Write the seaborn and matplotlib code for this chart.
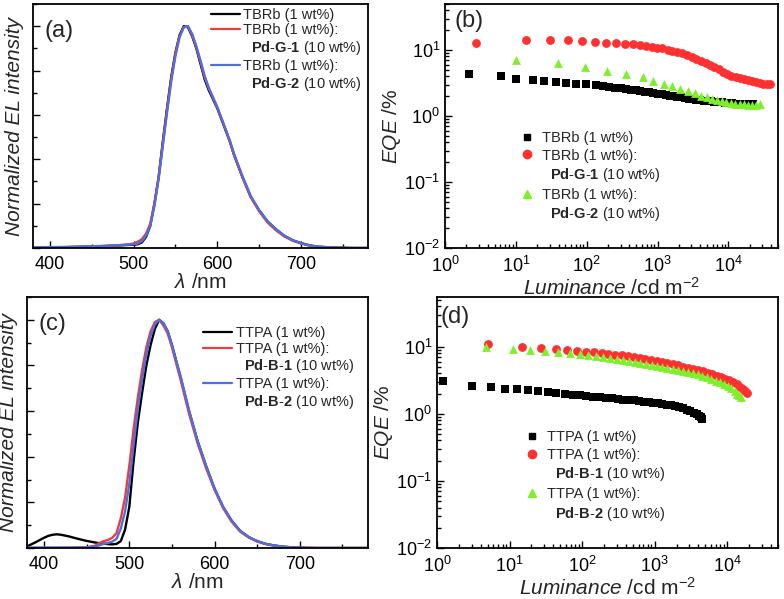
import matplotlib
matplotlib.use("Agg")
import matplotlib.pyplot as plt
import seaborn as sns
from matplotlib.lines import Line2D
from matplotlib.ticker import MultipleLocator

# ---- panel (a): TBRb EL spectra ----
wl_a = [380, 400, 420, 440, 460, 480, 490, 500, 505, 510, 515, 520, 525, 530, 535,
        540, 545, 550, 555, 560, 565, 570, 575, 580, 585, 590, 595, 600, 605, 610,
        615, 620, 630, 640, 650, 660, 670, 680, 690, 700, 710, 720, 740, 760, 780]
el_tbrb = [0.0, 0.002, 0.004, 0.006, 0.008, 0.011, 0.013, 0.015, 0.017, 0.025,
           0.05, 0.1, 0.2, 0.32, 0.48, 0.63, 0.77, 0.88, 0.96, 1.0,
           0.995, 0.955, 0.9, 0.83, 0.76, 0.71, 0.67, 0.63, 0.58, 0.53,
           0.48, 0.42, 0.32, 0.23, 0.17, 0.12, 0.085, 0.055, 0.035, 0.022,
           0.012, 0.006, 0.002, 0.0, 0.0]
el_tbrb_g1 = [0.0, 0.001, 0.002, 0.004, 0.007, 0.012, 0.015, 0.02, 0.028, 0.04,
              0.065, 0.11, 0.2, 0.32, 0.47, 0.62, 0.76, 0.875, 0.955, 0.995,
              1.0, 0.96, 0.905, 0.84, 0.77, 0.72, 0.68, 0.635, 0.585, 0.535,
              0.48, 0.42, 0.32, 0.23, 0.165, 0.115, 0.08, 0.052, 0.033, 0.02,
              0.011, 0.005, 0.001, 0.0, 0.0]
el_tbrb_g2 = [0.003, 0.004, 0.005, 0.007, 0.009, 0.012, 0.014, 0.017, 0.02, 0.03,
              0.055, 0.1, 0.19, 0.31, 0.46, 0.61, 0.75, 0.865, 0.95, 0.995,
              1.0, 0.965, 0.91, 0.845, 0.775, 0.72, 0.675, 0.635, 0.585, 0.535,
              0.485, 0.425, 0.325, 0.235, 0.17, 0.12, 0.085, 0.055, 0.035, 0.022,
              0.012, 0.006, 0.002, 0.0, 0.0]

# ---- panel (b): TBRb EQE ----
lum_b_tbrb = [2.2, 6.1, 10.1, 17.4, 25, 37, 51, 70, 97, 134,
              167, 207, 250, 300, 355, 420, 490, 570, 660, 760,
              870, 1000, 1140, 1300, 1480, 1680, 1900, 2150, 2430, 2750,
              3100, 3500, 3950, 4450, 5000, 5600, 6300, 7100, 8000, 9000,
              10100, 11300, 12700, 14200, 15900, 17800, 20000, 22000]
eqe_b_tbrb = [4.4, 4.0, 3.7, 3.55, 3.35, 3.27, 3.16, 3.09, 3.02, 2.91,
              2.85, 2.75, 2.7, 2.65, 2.58, 2.52, 2.46, 2.4, 2.34, 2.28,
              2.23, 2.18, 2.13, 2.08, 2.04, 2.0, 1.96, 1.92, 1.88, 1.84,
              1.81, 1.78, 1.75, 1.72, 1.69, 1.67, 1.65, 1.63, 1.61, 1.59,
              1.58, 1.56, 1.55, 1.54, 1.53, 1.52, 1.51, 1.5]
lum_b_g1 = [2.7, 14, 30, 54, 86, 131, 186, 257, 347, 450,
            560, 690, 830, 990, 1170, 1380, 1620, 1900, 2220, 2600,
            3030, 3530, 4100, 4750, 5500, 6350, 7300, 8400, 9600, 11000,
            12600, 14400, 16400, 18700, 21300, 24200, 27500, 31200, 35300, 39000]
eqe_b_g1 = [13.0, 14.1, 14.1, 14.1, 13.7, 13.2, 12.9, 12.6, 12.3, 12.2,
            11.9, 11.6, 11.3, 10.9, 10.6, 10.2, 9.8, 9.4, 8.9, 8.4,
            7.9, 7.4, 6.9, 6.4, 5.9, 5.5, 5.1, 4.7, 4.35, 4.05,
            3.9, 3.75, 3.6, 3.47, 3.35, 3.25, 3.17, 3.1, 3.06, 3.05]
lum_b_g2 = [9.9, 39, 95, 196, 363, 620, 860, 1230, 1600, 2100, 2700, 3400, 4100,
            4900, 5800, 6800, 8000, 9300, 10800, 12500, 14400, 16500, 19000,
            21700, 24700, 28000]
eqe_b_g2 = [7.1, 6.3, 5.5, 4.8, 4.27, 3.98, 3.35, 3.1, 2.82, 2.6, 2.42, 2.22, 2.05,
            1.92, 1.82, 1.74, 1.67, 1.62, 1.57, 1.54, 1.51, 1.5, 1.49,
            1.49, 1.49, 1.5]

# ---- panel (c): TTPA EL spectra ----
wl_c = [380, 390, 400, 405, 410, 415, 420, 430, 440, 450,
        460, 465, 470, 475, 480, 485, 490, 495, 500, 505,
        510, 515, 520, 525, 530, 535, 540, 545, 550, 555,
        560, 570, 580, 590, 600, 610, 620, 630, 640, 650,
        660, 670, 680, 690, 700, 720, 750, 780]
el_ttpa = [0.007, 0.025, 0.045, 0.053, 0.058, 0.06, 0.058, 0.05, 0.04, 0.031,
           0.024, 0.021, 0.019, 0.017, 0.016, 0.018, 0.03, 0.08, 0.18, 0.38,
           0.55, 0.68, 0.8, 0.89, 0.96, 1.0, 0.985, 0.95, 0.89, 0.82,
           0.75, 0.6, 0.47, 0.36, 0.26, 0.18, 0.12, 0.075, 0.048, 0.03,
           0.018, 0.011, 0.006, 0.003, 0.001, 0.0, 0.0, 0.0]
el_ttpa_b1 = [0.0, 0.0, 0.0, 0.0, 0.0, 0.0, 0.001, 0.001, 0.002, 0.003,
              0.01, 0.022, 0.03, 0.035, 0.045, 0.065, 0.13, 0.22, 0.36, 0.52,
              0.66, 0.78, 0.88, 0.95, 0.99, 1.0, 0.975, 0.94, 0.88, 0.81,
              0.74, 0.59, 0.46, 0.35, 0.255, 0.175, 0.115, 0.072, 0.046, 0.028,
              0.017, 0.01, 0.005, 0.003, 0.001, 0.0, 0.0, 0.0]
el_ttpa_b2 = [0.002, 0.002, 0.002, 0.002, 0.002, 0.002, 0.002, 0.002, 0.002, 0.003,
              0.006, 0.012, 0.018, 0.022, 0.028, 0.04, 0.085, 0.16, 0.28, 0.45,
              0.61, 0.74, 0.85, 0.93, 0.98, 1.0, 0.985, 0.95, 0.89, 0.82,
              0.755, 0.605, 0.47, 0.36, 0.26, 0.18, 0.12, 0.075, 0.048, 0.03,
              0.018, 0.011, 0.006, 0.003, 0.001, 0.0, 0.0, 0.0]

# ---- panel (d): TTPA EQE ----
lum_d_ttpa = [1.21, 3.0, 5.5, 8.6, 12.8, 18, 24.8, 34, 44, 58,
              75, 92, 114, 140, 174, 215, 260, 310, 370, 440,
              520, 610, 710, 830, 960, 1110, 1280, 1470, 1680, 1920,
              2180, 2460, 2770, 3100, 3450, 3800, 4100, 4350, 4500]
eqe_d_ttpa = [3.05, 2.6, 2.51, 2.37, 2.32, 2.24, 2.16, 2.11, 2.04, 2.0,
              1.93, 1.88, 1.84, 1.8, 1.76, 1.72, 1.69, 1.66, 1.63, 1.6,
              1.58, 1.55, 1.52, 1.49, 1.46, 1.43, 1.40, 1.37, 1.33, 1.29,
              1.25, 1.2, 1.15, 1.1, 1.04, 0.98, 0.93, 0.89, 0.85]
lum_d_b1 = [5, 15, 27, 43, 62, 85, 112, 145, 185, 230,
            285, 350, 425, 515, 620, 745, 890, 1060, 1260, 1490,
            1760, 2080, 2450, 2880, 3380, 3950, 4600, 5350, 6200, 7150,
            8200, 9400, 10700, 12100, 13600, 15100, 16600, 17800, 18700]
eqe_d_b1 = [10.8, 10.0, 9.5, 9.2, 9.0, 8.7, 8.4, 8.2, 8.0, 7.8,
            7.6, 7.4, 7.2, 7.0, 6.8, 6.6, 6.4, 6.2, 6.0, 5.8,
            5.55, 5.3, 5.05, 4.85, 4.65, 4.5, 4.3, 4.1, 3.9, 3.7,
            3.5, 3.35, 3.15, 2.95, 2.75, 2.55, 2.35, 2.2, 2.05]
lum_d_b2 = [4.7, 11, 19, 31, 47, 68, 92, 120, 155, 195,
            245, 300, 365, 440, 530, 635, 760, 905, 1075, 1270,
            1500, 1770, 2080, 2440, 2860, 3340, 3900, 4530, 5250, 6050,
            6950, 7950, 9050, 10200, 11400, 12600, 13800, 14700, 15400]
eqe_d_b2 = [10.0, 9.1, 8.8, 8.6, 8.4, 8.1, 7.8, 7.5, 7.2, 7.0,
            6.8, 6.6, 6.3, 6.1, 5.9, 5.7, 5.5, 5.35, 5.2, 5.0,
            4.85, 4.7, 4.55, 4.4, 4.25, 4.05, 3.9, 3.7, 3.5, 3.3,
            3.1, 2.95, 2.8, 2.6, 2.4, 2.2, 2.0, 1.88, 1.78]

BLACK = "#000000"
RED_LINE = "#ee3b3b"
BLUE_LINE = "#4f6fe0"
RED_DOT = "#ff3030"
GREEN_DOT = "#7cf02a"

sns.set_theme(style="ticks")
plt.rcParams["font.family"] = ["Liberation Sans", "DejaVu Sans"]
plt.rcParams["mathtext.fontset"] = "custom"
plt.rcParams["mathtext.rm"] = "Liberation Sans"
plt.rcParams["mathtext.it"] = "Liberation Sans:italic"
plt.rcParams["mathtext.bf"] = "Liberation Sans:bold"
plt.rcParams["axes.linewidth"] = 1.3
plt.rcParams["axes.edgecolor"] = "black"


def bold_name(name):
    parts = name.split("-")
    return "-".join("$\\mathbf{%s}$" % p for p in parts)


def style_axes(ax):
    ax.tick_params(axis="both", which="both", direction="in", top=False, right=False,
                   labelsize=13, colors="black", width=1.0)
    ax.tick_params(which="major", length=5)
    ax.tick_params(which="minor", length=3)
    ax.tick_params(axis="x", which="both", pad=6)
    for s in ax.spines.values():
        s.set_linewidth(1.3)
        s.set_color("black")


def spectra_panel(ax, wl, series, host, guests, tag, leg_xy):
    colors = [BLACK, RED_LINE, BLUE_LINE]
    for ys, c in zip(series, colors):
        sns.lineplot(x=wl, y=ys, ax=ax, color=c, linewidth=1.7, legend=False)
    ax.set_xlim(380, 780)
    ax.set_ylim(0, 1.1)
    ax.xaxis.set_major_locator(MultipleLocator(100))
    ax.xaxis.set_minor_locator(MultipleLocator(50))
    ax.yaxis.set_major_locator(MultipleLocator(0.2))
    ax.yaxis.set_minor_locator(MultipleLocator(0.1))
    style_axes(ax)
    ax.tick_params(labelleft=False)
    ax.set_xlabel("$\\mathit{\\lambda}$ /nm", fontsize=15, labelpad=0)
    ax.set_ylabel("Normalized EL intensity", fontsize=15, style="italic", labelpad=3)
    ax.text(0.035, 0.935, tag, transform=ax.transAxes, fontsize=17, va="top")
    blank = Line2D([], [], linestyle="none")
    handles = [Line2D([], [], color=BLACK, lw=1.6),
               Line2D([], [], color=RED_LINE, lw=1.6), blank,
               Line2D([], [], color=BLUE_LINE, lw=1.6), blank]
    labels = [host, host + ":", "  " + bold_name(guests[0]) + " (10 wt%)",
              host + ":", "  " + bold_name(guests[1]) + " (10 wt%)"]
    ax.legend(handles, labels, loc="upper left", bbox_to_anchor=leg_xy, frameon=False,
              fontsize=10.5, borderpad=0, borderaxespad=0, handlelength=2.0,
              handletextpad=0.25, labelspacing=0.12)


def eqe_panel(ax, data, host, guests, tag, tag_xy, leg_xy, ylim):
    markers = ["s", "o", "^"]
    colors = [BLACK, RED_DOT, GREEN_DOT]
    sizes = [26, 40, 40]
    for (xs, ys), m, c, s in zip(data, markers, colors, sizes):
        sns.scatterplot(x=xs, y=ys, ax=ax, marker=m, color=c, s=s, linewidth=0,
                        legend=False)
    ax.set_xscale("log")
    ax.set_yscale("log")
    ax.set_xlim(1, 5e4)
    ax.set_ylim(*ylim)
    style_axes(ax)
    ax.set_xlabel("$\\mathit{Luminance}$ /cd m$^{-2}$", fontsize=15, labelpad=0)
    ax.set_ylabel("$\\mathit{EQE}$ /%", fontsize=15, labelpad=1)
    ax.text(tag_xy[0], tag_xy[1], tag, transform=ax.transAxes, fontsize=17, va="top")
    blank = Line2D([], [], linestyle="none")
    handles = [Line2D([], [], marker="s", color=BLACK, linestyle="none", markersize=5),
               Line2D([], [], marker="o", color=RED_DOT, linestyle="none", markersize=6),
               blank,
               Line2D([], [], marker="^", color=GREEN_DOT, linestyle="none", markersize=6),
               blank]
    labels = [host, host + ":", "  " + bold_name(guests[0]) + " (10 wt%)",
              host + ":", "  " + bold_name(guests[1]) + " (10 wt%)"]
    ax.legend(handles, labels, loc="upper left", bbox_to_anchor=leg_xy, frameon=False,
              fontsize=10.5, borderpad=0, borderaxespad=0, handlelength=1.0,
              handletextpad=0.5, labelspacing=0.25)


fig = plt.figure(figsize=(7.84, 5.99), dpi=100)
ax_a = fig.add_axes([33 / 784, 1 - 248 / 599, 335 / 784, 244 / 599])
ax_b = fig.add_axes([445 / 784, 1 - 248 / 599, 333 / 784, 244 / 599])
ax_c = fig.add_axes([27 / 784, 1 - 548 / 599, 341 / 784, 251 / 599])
ax_d = fig.add_axes([437 / 784, 1 - 548 / 599, 341 / 784, 251 / 599])

spectra_panel(ax_a, wl_a, [el_tbrb, el_tbrb_g1, el_tbrb_g2], "TBRb (1 wt%)",
              ["Pd-G-1", "Pd-G-2"], "(a)", (0.53, 0.985))
spectra_panel(ax_c, wl_c, [el_ttpa, el_ttpa_b1, el_ttpa_b2], "TTPA (1 wt%)",
              ["Pd-B-1", "Pd-B-2"], "(c)", (0.516, 0.885))

eqe_panel(ax_b, [(lum_b_tbrb, eqe_b_tbrb), (lum_b_g1, eqe_b_g1), (lum_b_g2, eqe_b_g2)],
          "TBRb (1 wt%)", ["Pd-G-1", "Pd-G-2"], "(b)", (0.03, 0.975), (0.225, 0.48),
          (0.01, 50))
eqe_panel(ax_d, [(lum_d_ttpa, eqe_d_ttpa), (lum_d_b1, eqe_d_b1), (lum_d_b2, eqe_d_b2)],
          "TTPA (1 wt%)", ["Pd-B-1", "Pd-B-2"], "(d)", (0.01, 0.965), (0.258, 0.47),
          (0.01, 55))

fig.savefig("out.png", dpi=100, facecolor="white")
